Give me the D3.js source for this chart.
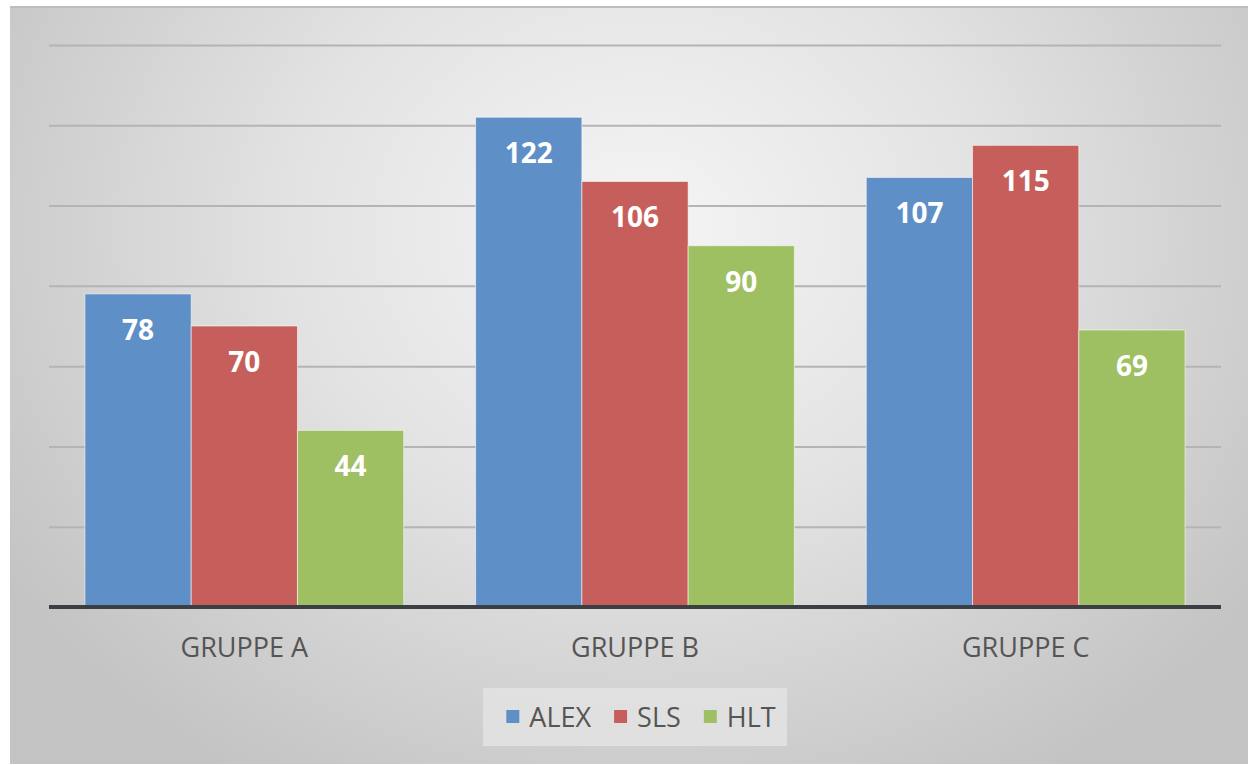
<!DOCTYPE html>
<html>
<head>
<meta charset="utf-8">
<script src="https://cdn.jsdelivr.net/npm/d3@7"></script>
<style>
  html, body { margin: 0; padding: 0; background: #ffffff; }
  svg { display: block; }
</style>
</head>
<body>
<svg id="chart" width="1248" height="765"></svg>
<script>
// Groups, series and values
const categories = ["GRUPPE A", "GRUPPE B", "GRUPPE C"];
const seriesNames = ["ALEX", "SLS", "HLT"];
const alexValues = [78, 122, 107];
const slsValues = [70, 106, 115];
const hltValues = [44, 90, 69];
const seriesColors = ["#5f8fc7", "#c65f5b", "#9fc062"];
const yTicks = [0, 20, 40, 60, 80, 100, 120, 140];

const seriesValues = [alexValues, slsValues, hltValues];
const rows = categories.map((c, i) => ({
  category: c,
  values: seriesNames.map((s, j) => ({ series: s, value: seriesValues[j][i], color: seriesColors[j] }))
}));

const W = 1248, H = 765;
const svg = d3.select("#chart");
const font = "'Open Sans', 'Noto Sans', sans-serif";

// Chart area background with soft radial shading
const defs = svg.append("defs");
const grad = defs.append("radialGradient")
  .attr("id", "bg").attr("gradientUnits", "userSpaceOnUse")
  .attr("cx", 640).attr("cy", 230).attr("r", 760)
  .attr("gradientTransform", "translate(640,230) scale(1,0.85) translate(-640,-230)");
grad.append("stop").attr("offset", "0%").attr("stop-color", "#f5f5f5");
grad.append("stop").attr("offset", "45%").attr("stop-color", "#e3e3e3");
grad.append("stop").attr("offset", "100%").attr("stop-color", "#c3c3c3");

svg.append("rect").attr("x", 10).attr("y", 6).attr("width", W - 10).attr("height", H - 7)
  .attr("fill", "url(#bg)");
svg.append("line").attr("x1", 10).attr("x2", W).attr("y1", 7).attr("y2", 7)
  .attr("stroke", "#bdbdbd").attr("stroke-width", 2);

const plot = { left: 49, right: 1221, top: 45, bottom: 607 };

const y = d3.scaleLinear().domain([0, 140]).range([plot.bottom, plot.top]);
const x0 = d3.scaleBand().domain(categories).range([plot.left, plot.right]).paddingInner(0).paddingOuter(0);
const groupGap = 0.184;
const x1 = d3.scaleBand().domain(seriesNames)
  .range([0, x0.bandwidth() * (1 - groupGap)]).padding(0);
const groupOffset = x0.bandwidth() * groupGap / 2;

// Horizontal gridlines
const grid = svg.append("g")
  .attr("transform", `translate(${plot.left},0)`)
  .call(d3.axisLeft(y).tickValues(yTicks.filter(t => t > 0))
    .tickSize(-(plot.right - plot.left)).tickFormat(""));
grid.select(".domain").remove();
grid.selectAll(".tick line").attr("stroke", "#b4b4b4").attr("stroke-width", 2);

// Bars
const groups = svg.append("g").selectAll("g").data(rows).join("g")
  .attr("transform", d => `translate(${x0(d.category) + groupOffset},0)`);

groups.selectAll("rect").data(d => d.values).join("rect")
  .attr("x", d => x1(d.series))
  .attr("y", d => y(d.value))
  .attr("width", x1.bandwidth())
  .attr("height", d => y(0) - y(d.value))
  .attr("fill", d => d.color)
  .attr("stroke", "rgba(255,255,255,0.55)")
  .attr("stroke-width", 1);

// Value labels inside the top of each bar
groups.selectAll("text").data(d => d.values).join("text")
  .attr("x", d => x1(d.series) + x1.bandwidth() / 2)
  .attr("y", d => y(d.value) + 46)
  .attr("text-anchor", "middle")
  .attr("font-family", font).attr("font-weight", "bold").attr("font-size", 28)
  .attr("fill", "#ffffff")
  .text(d => d.value);

// Category axis
const xAxis = svg.append("g")
  .attr("transform", `translate(0,${plot.bottom})`)
  .call(d3.axisBottom(x0).tickSize(0).tickPadding(0));
xAxis.select(".domain").remove();
xAxis.selectAll(".tick text")
  .attr("y", 50).attr("dy", 0)
  .attr("font-family", font).attr("font-size", 27).attr("fill", "#555555");
xAxis.selectAll(".tick").attr("transform", d => `translate(${x0(d) + x0.bandwidth() / 2},0)`);

// Baseline
svg.append("line")
  .attr("x1", plot.left).attr("x2", plot.right)
  .attr("y1", y(0)).attr("y2", y(0))
  .attr("stroke", "#3b3e43").attr("stroke-width", 4);

// Legend
const legend = svg.append("g");
legend.append("rect").attr("x", 483).attr("y", 688).attr("width", 304).attr("height", 58)
  .attr("fill", "#e3e3e3").attr("opacity", 0.85);
const items = legend.selectAll("g.item").data(seriesNames).join("g").attr("class", "item");
items.append("rect").attr("width", 13).attr("height", 13).attr("y", 710)
  .attr("fill", (d, i) => seriesColors[i]);
items.append("text").attr("y", 727).attr("x", 23)
  .attr("font-family", font).attr("font-size", 27).attr("fill", "#555555")
  .text(d => d);
let widths = [];
items.each(function () { widths.push(23 + d3.select(this).select("text").node().getComputedTextLength()); });
const itemGap = 23;
const total = d3.sum(widths) + itemGap * (widths.length - 1);
let cx = 641 - total / 2;
items.each(function (d, i) {
  d3.select(this).attr("transform", `translate(${cx},0)`);
  d3.select(this).select("rect").attr("x", 0);
  cx += widths[i] + itemGap;
});
</script>
</body>
</html>
